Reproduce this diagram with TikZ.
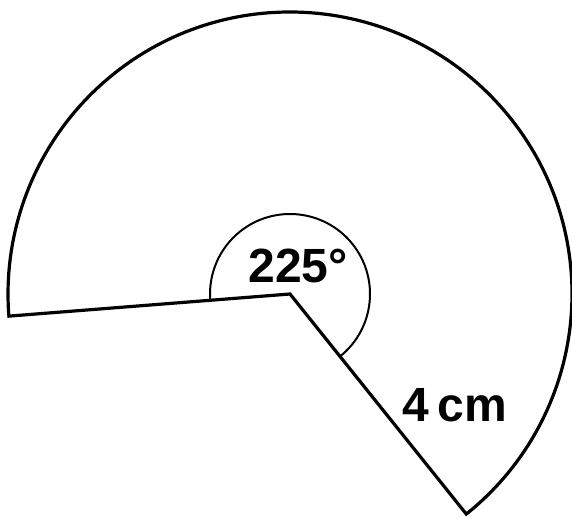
\documentclass[tikz,border=0pt]{standalone}
\usepackage{fontspec}
\setmainfont{Liberation Sans}
\usetikzlibrary{calc}
\begin{document}
\begin{tikzpicture}[x=1pt,y=1pt,
  edge/.style={line width=3.2pt,line join=miter},
  anglearc/.style={line width=2pt},
  lbl/.style={font=\fontsize{48}{48}\selectfont\bfseries,inner sep=0pt}]
\useasboundingbox (0,0) rectangle (572,517);
\coordinate (C) at (290,223);
\coordinate (B) at ($(C)+(-51.3:282)$);
\path (C) ++(-51.3:80) coordinate (b1);
\draw[anglearc] (b1) arc[start angle=-51.3,end angle=184.5,radius=80];
\draw[edge] (C) -- (B) arc[start angle=-51.3,end angle=184.5,radius=282] coordinate (A) -- cycle;
\node[lbl] (ang) at (298,251) {225°};
\node[lbl] (len) at (455,112) {4\,cm};
\end{tikzpicture}
\end{document}
